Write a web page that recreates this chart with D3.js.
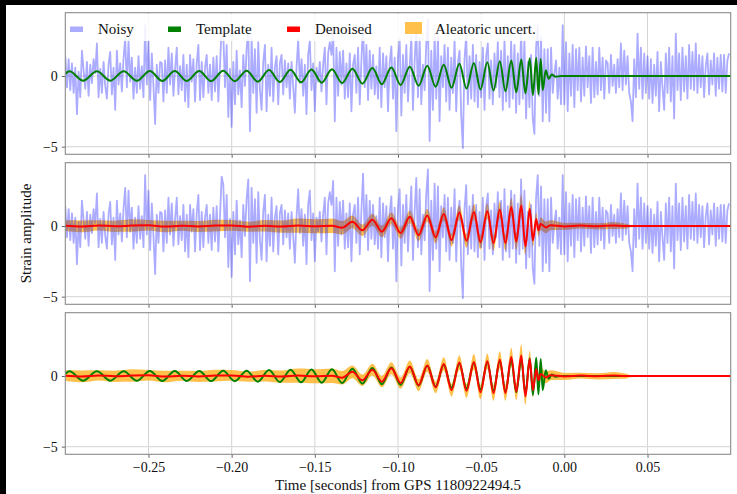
<!DOCTYPE html>
<html>
<head>
<meta charset="utf-8">
<script src="https://cdn.jsdelivr.net/npm/d3@7"></script>
<style>
  body { margin: 0; background: #000; }
  svg { display: block; }
  text { font-family: "Liberation Serif", "DejaVu Serif", serif; fill: #111; }
</style>
</head>
<body>
<div id="chart"></div>
<script>
// ---- data ----
const xTicks = [-0.25, -0.20, -0.15, -0.10, -0.05, 0.00, 0.05];
const yTicks = [0, -5];

// noisy strain, sampled every 1 ms from -0.3 s
const noiseStart = -0.3;
const noiseStep = 0.001;
const noisy = [
  1.4, -0.8, 1.2, -1.0, 0.9, -1.2, 0.6, -2.7, 0.3, -1.5,
  1.8, 0.4, -0.9, 1.0, -1.4, 0.8, -0.5, 1.2, 0.2, 2.3,
  -1.5, 0.5, -1.2, 1.0, -0.7, -1.6, 0.8, 1.7, -1.3, 0.6,
  -2.4, 1.8, -0.6, 0.9, -1.1, 1.2, 2.7, -0.8, 2.5, -0.4,
  1.3, -1.6, 0.6, -1.2, 1.4, -0.9, 0.7, -1.5, 3.6, -0.6,
  2.5, -1.7, 1.6, -0.7, -3.4, 0.8, -1.2, 1.0, 0.9, -1.8,
  1.1, -1.2, 2.0, -0.6, 1.6, -1.4, 0.5, 2.0, -1.3, 0.7,
  -1.0, 1.5, -1.8, 0.8, -2.2, 1.5, -0.4, 1.2, -1.8, 0.9,
  2.2, -1.7, 1.0, -1.5, 0.6, 1.5, -1.2, 0.8, -1.7, 1.3,
  -1.1, 1.4, -1.8, 0.7, 3.5, 2.9, -0.8, 2.2, -2.9, 0.5,
  -3.6, 1.0, -2.0, 1.8, -1.3, 0.4, -2.2, 1.5, -0.7, 1.9,
  3.3, -3.9, 2.7, -1.2, 1.9, -2.6, 2.4, -1.0, -2.4, 1.0,
  2.2, -2.5, 0.8, -1.4, 2.0, -1.8, 0.6, 1.4, -2.0, 0.9,
  1.5, -1.3, 1.1, -0.8, 0.9, -1.6, 1.0, -0.7, -2.6, 0.6,
  2.6, -0.5, 1.2, -1.4, 0.8, -2.7, 1.5, 2.5, -1.0, 0.9,
  -2.5, 0.6, -0.4, 1.0, -1.1, 0.8, 2.0, -2.0, 1.6, 2.4,
  1.5, 3.2, -3.2, 2.0, -1.4, 1.7, -0.6, 1.8, -1.6, 0.9,
  -1.5, 1.6, -2.5, 0.8, 1.5, -1.2, 2.0, -2.0, 1.1, 3.7,
  -0.8, 2.2, -1.7, 1.8, -0.9, 1.5, -1.3, 0.7, -1.6, 2.0,
  -2.2, 1.6, -0.8, 1.4, -2.5, 0.9, 2.1, -1.6, 1.3, -3.9,
  1.2, 2.6, -2.8, 1.5, -1.2, 2.2, -1.8, 0.6, 2.8, -2.4,
  1.0, 3.4, -1.5, 2.6, -2.0, 0.8, -1.0, 2.3, 4.0, -4.6,
  1.8, -2.4, 3.0, -1.6, 2.8, -3.2, 1.4, -0.8, 2.2, -1.8,
  2.0, -2.4, 1.3, -1.2, 2.6, -2.5, 0.9, 1.8, -2.8, -5.1,
  1.2, 2.9, -2.0, 1.4, -1.6, 2.2, -1.8, 1.5, -2.2, 1.0,
  -1.5, 2.0, -2.4, 1.4, 2.3, -1.6, 1.1, -2.0, 1.6, -0.8,
  2.4, -1.5, 1.8, -2.4, 2.6, -1.8, 1.4, -2.2, 2.5, -1.6,
  2.2, -2.6, 1.6, -2.0, 3.3, -1.6, 2.5, -3.0, 1.0, -2.2,
  1.5, -3.0, -4.1, 2.0, 3.6, -1.4, 2.8, -3.2, 1.9, -2.6,
  1.9, -3.2, 2.0, -1.2, 0.2, 1.1, -1.6, 0.6, -2.0, 3.6,
  -2.0, 2.4, -2.5, 1.6, -1.4, 2.2, -2.2, 1.9, -1.0, 2.0,
  -1.8, 1.3, -1.4, 2.1, -0.8, 1.4, -1.9, 2.0, -1.5, 1.0,
  -1.3, 2.0, -1.0, 1.3, -1.6, 1.1, 0.9, -1.2, 1.5, -0.7,
  0.8, -1.2, 1.2, -0.8, 2.3, -1.0, 1.8, -0.6, 1.4, -1.2,
  -1.8, -3.2, 1.2, -1.5, 3.0, -0.9, 2.0, -1.6, 1.6, -1.2,
  1.4, -1.6, 1.2, -1.9, 0.8, -1.4, 1.7, -2.5, 1.0, -0.8,
  -2.4, 1.6, -1.2, 2.0, -1.8, 1.4, -3.0, 3.0, -1.0, 1.6,
  -1.7, 2.0, -1.1, 1.4, -1.6, 2.2, -0.9, 1.7, -1.0, 2.3,
  -1.2, 1.5, -0.8, 1.4, -1.5, 0.7, 1.6, -1.3, 1.1, -0.6,
  1.6, -1.4, 1.3, -0.9, 1.5, -1.1, 1.5, -1.2, 1.1, 1.6
];

// template chirp: times of its turning points and their values
const templateT = [-0.3, -0.2975, -0.2893, -0.2810, -0.2729, -0.2649, -0.2570, -0.2492, -0.2417, -0.2342,
  -0.2269, -0.2195, -0.2123, -0.2051, -0.1981, -0.1910, -0.1843, -0.1775, -0.1711, -0.1646,
  -0.1583, -0.1520, -0.1459, -0.1397, -0.1336, -0.1274, -0.1214, -0.1154, -0.1097, -0.1040,
  -0.0984, -0.0929, -0.0876, -0.0824, -0.0774, -0.0725, -0.0678, -0.0631, -0.0588, -0.0544,
  -0.0504, -0.0463, -0.0426, -0.0388, -0.0354, -0.0319, -0.0289, -0.0259, -0.0234, -0.0208,
  -0.0189, -0.0169, -0.0156, -0.0142, -0.0130, -0.0112, -0.0094, -0.0076, -0.0052, -0.002, 0.1];
const templateV = [0.15, 0.33, -0.33, 0.33, -0.33, 0.34, -0.34, 0.35, -0.35, 0.35,
  -0.35, 0.36, -0.36, 0.37, -0.37, 0.38, -0.4, 0.42, -0.43, 0.44,
  -0.45, 0.46, -0.47, 0.48, -0.5, 0.52, -0.54, 0.56, -0.58, 0.6,
  -0.63, 0.66, -0.69, 0.72, -0.76, 0.8, -0.83, 0.86, -0.89, 0.92,
  -0.95, 0.98, -1.02, 1.05, -1.08, 1.1, -1.14, 1.17, -1.22, 1.25,
  -1.35, 1.3, -1.3, 1.2, -1.0, 0.4, -0.2, 0.1, -0.05, 0, 0];

// denoised output, with the half width of the aleatoric band
const denoisedT = [-0.3, -0.29, -0.28, -0.27, -0.26, -0.25, -0.24, -0.23, -0.22, -0.21,
  -0.2, -0.19, -0.18, -0.17, -0.16, -0.15, -0.1397, -0.1336, -0.1274, -0.1214,
  -0.1154, -0.1097, -0.1040, -0.0984, -0.0929, -0.0876, -0.0824, -0.0774, -0.0725, -0.0678,
  -0.0631, -0.0588, -0.0544, -0.0504, -0.0463, -0.0426, -0.0388, -0.0354, -0.0319, -0.0289,
  -0.0259, -0.0234, -0.0208, -0.0189, -0.0169, -0.0156, -0.0142, -0.0112, -0.0082, -0.004,
  0.0, 0.01, 0.02, 0.03, 0.036, 0.04, 0.05, 0.06, 0.07, 0.08, 0.09, 0.1];
const denoisedV = [0.02, -0.03, 0.04, -0.02, 0.03, 0.05, -0.04, 0.02, -0.03, 0.03,
  0.04, -0.05, 0.02, -0.04, 0.03, -0.02, 0.02, -0.12, 0.3, -0.3,
  0.45, -0.4, 0.55, -0.5, 0.65, -0.65, 0.75, -0.8, 0.85, -1.0,
  0.95, -1.05, 1.0, -1.15, 1.05, -1.2, 1.15, -1.2, 1.35, -1.1,
  1.45, -1.45, 1.2, -1.0, 0.5, -0.3, 0.15, -0.1, 0.05, 0.02,
  -0.03, 0.03, -0.02, 0.04, 0.0, 0.0, 0.0, 0.0, 0.0, 0.0, 0.0, 0.0];
const bandW = [0.38, 0.42, 0.36, 0.4, 0.44, 0.37, 0.41, 0.35, 0.39, 0.42,
  0.38, 0.36, 0.4, 0.43, 0.5, 0.5, 0.52, 0.48, 0.45, 0.4,
  0.42, 0.4, 0.42, 0.4, 0.45, 0.42, 0.45, 0.42, 0.48, 0.45,
  0.5, 0.48, 0.55, 0.5, 0.55, 0.55, 0.6, 0.55, 0.65, 0.6,
  0.8, 0.6, 0.6, 0.5, 0.5, 0.45, 0.45, 0.42, 0.35, 0.3,
  0.25, 0.2, 0.22, 0.25, 0.2, 0.08, 0.05, 0.05, 0.05, 0.05, 0.05, 0.05];

// ---- layout ----
const W = 737, H = 494;
const left = 65.3, right = 730.7;
const panelTops = [12.7, 162.7, 312.7];
const panelH = 141.6;

const svg = d3.select("#chart").append("svg")
  .attr("width", W)
  .attr("height", H);

// white figure area, the black shows on the top and left edges
svg.append("rect")
  .attr("x", 6).attr("y", 5)
  .attr("width", W - 6).attr("height", H - 5)
  .attr("fill", "#fff");

const x = d3.scaleLinear().domain([-0.3, 0.1]).range([left, right]);

const noisePts = noisy.map((v, i) => ({ t: noiseStart + i * noiseStep, v: v }));
const templatePts = templateT.map((t, i) => ({ t: t, v: templateV[i] }));
const denoisedPts = denoisedT.map((t, i) => ({ t: t, v: denoisedV[i], w: bandW[i] }));

panelTops.forEach((top, p) => {
  const y = d3.scaleLinear().domain([-5.54, 4.48]).range([top + panelH, top]);
  const g = svg.append("g");

  const clipId = "clip" + p;
  svg.append("clipPath").attr("id", clipId)
    .append("rect")
    .attr("x", left).attr("y", top)
    .attr("width", right - left).attr("height", panelH);

  // grid
  g.selectAll(".vgrid").data(xTicks).enter().append("line")
    .attr("x1", d => x(d)).attr("x2", d => x(d))
    .attr("y1", top).attr("y2", top + panelH)
    .attr("stroke", "#cfcfcf").attr("stroke-width", 0.9);
  g.selectAll(".hgrid").data(yTicks).enter().append("line")
    .attr("x1", left).attr("x2", right)
    .attr("y1", d => y(d)).attr("y2", d => y(d))
    .attr("stroke", "#dcdcdc").attr("stroke-width", 1.2);

  const plot = g.append("g").attr("clip-path", `url(#${clipId})`);

  const line = d3.line().x(d => x(d.t)).y(d => y(d.v));
  const smooth = d3.line().x(d => x(d.t)).y(d => y(d.v)).curve(d3.curveMonotoneX);
  const band = d3.area().x(d => x(d.t))
    .y0(d => y(d.v - d.w)).y1(d => y(d.v + d.w))
    .curve(d3.curveMonotoneX);

  if (p === 1 || p === 2) {
    plot.append("path").datum(denoisedPts)
      .attr("d", band)
      .attr("fill", "orange")
      .attr("fill-opacity", 0.7);
  }
  if (p === 0 || p === 1) {
    plot.append("path").datum(noisePts)
      .attr("d", line)
      .attr("fill", "none")
      .attr("stroke", "blue")
      .attr("stroke-opacity", 0.33)
      .attr("stroke-width", 1.8)
      .attr("stroke-linejoin", "round");
  }
  if (p === 0 || p === 2) {
    plot.append("path").datum(templatePts)
      .attr("d", smooth)
      .attr("fill", "none")
      .attr("stroke", "green")
      .attr("stroke-width", 2);
  }
  if (p === 1 || p === 2) {
    plot.append("path").datum(denoisedPts)
      .attr("d", smooth)
      .attr("fill", "none")
      .attr("stroke", "red")
      .attr("stroke-width", 2);
  }

  // axes
  const xAxis = d3.axisBottom(x).tickValues(xTicks).tickSize(3.5).tickPadding(4)
    .tickFormat(p === 2 ? d3.format(".2f") : "");
  const xg = g.append("g").attr("transform", `translate(0,${top + panelH})`).call(xAxis);
  const yAxis = d3.axisLeft(y).tickValues(yTicks).tickSize(3.5).tickPadding(4)
    .tickFormat(d3.format("d"));
  const yg = g.append("g").attr("transform", `translate(${left},0)`).call(yAxis);
  [xg, yg].forEach(a => {
    a.select(".domain").remove();
    a.selectAll(".tick line").attr("stroke", "#555").attr("stroke-width", 0.9);
    a.selectAll(".tick text")
      .attr("font-family", "Liberation Serif, serif")
      .attr("font-size", 14)
      .attr("fill", "#111");
  });

  // frame
  g.append("rect")
    .attr("x", left).attr("y", top)
    .attr("width", right - left).attr("height", panelH)
    .attr("fill", "none")
    .attr("stroke", "#8a8a8a")
    .attr("stroke-width", 1.1);
});

// legend in the top panel
const legendItems = [
  { name: "Noisy", color: "blue", opacity: 0.33, x: 70, kind: "line" },
  { name: "Template", color: "green", opacity: 1, x: 168, kind: "line" },
  { name: "Denoised", color: "red", opacity: 1, x: 287, kind: "line" },
  { name: "Aleatoric uncert.", color: "orange", opacity: 0.7, x: 405, kind: "patch" }
];
const legend = svg.append("g");
legend.append("rect")
  .attr("x", 67).attr("y", 14)
  .attr("width", 480).attr("height", 27)
  .attr("rx", 3)
  .attr("fill", "#fff")
  .attr("fill-opacity", 0.85);
const item = legend.selectAll(".item").data(legendItems).enter().append("g")
  .attr("transform", d => `translate(${d.x},0)`);
item.append("rect")
  .attr("x", 0)
  .attr("y", d => d.kind === "patch" ? 22 : 26.5)
  .attr("width", d => d.kind === "patch" ? 17 : 13)
  .attr("height", d => d.kind === "patch" ? 12 : 5.5)
  .attr("fill", d => d.color)
  .attr("fill-opacity", d => d.opacity);
item.append("text")
  .attr("x", d => d.kind === "patch" ? 30 : 28)
  .attr("y", 34)
  .attr("font-size", 15)
  .text(d => d.name);

// axis titles
svg.append("text")
  .attr("x", (left + right) / 2)
  .attr("y", 490)
  .attr("text-anchor", "middle")
  .attr("font-size", 15)
  .text("Time [seconds] from GPS 1180922494.5");

svg.append("text")
  .attr("transform", "translate(31,233.5) rotate(-90)")
  .attr("text-anchor", "middle")
  .attr("font-size", 15)
  .text("Strain amplitude");
</script>
</body>
</html>
